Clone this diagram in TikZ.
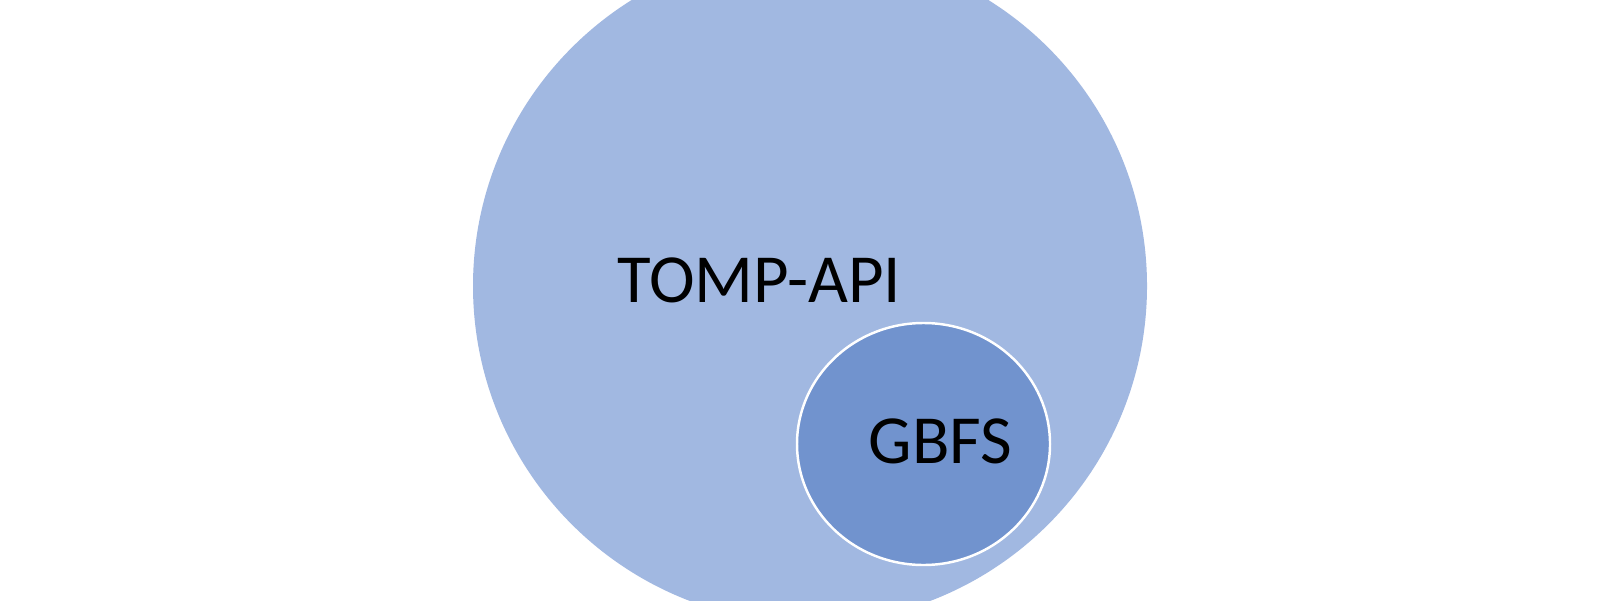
\documentclass[tikz,border=0pt]{standalone}
\usepackage{fontspec}
\setmainfont{Carlito}
\usetikzlibrary{shapes.geometric}
\definecolor{outerblue}{HTML}{A1B8E1}
\definecolor{innerblue}{HTML}{7193CE}

\begin{document}
\begin{tikzpicture}[
  outerset/.style={circle,fill=outerblue,inner sep=0pt,minimum size=6.74cm},
  innerset/.style={ellipse,fill=innerblue,draw=white,line width=0.7pt,inner sep=0pt,
                   minimum width=2.53cm,minimum height=2.42cm},
  setlabel/.style={anchor=base,inner sep=0pt,font=\fontsize{19.6}{23}\selectfont}]
  \useasboundingbox (0,0) rectangle (16,6);
  \fill[white] (0,0) rectangle (16,6);
  \clip (0,0) rectangle (16,6);
  \node[outerset] (tomp) at (8.10,3.14) {};
  \node[innerset] (gbfs) at (9.235,1.56) {};
  \node[setlabel] (tomplabel) at (7.595,2.98) {TOMP-API};
  \node[setlabel] (gbfslabel) at (9.405,1.37) {GBFS};
\end{tikzpicture}
\end{document}
